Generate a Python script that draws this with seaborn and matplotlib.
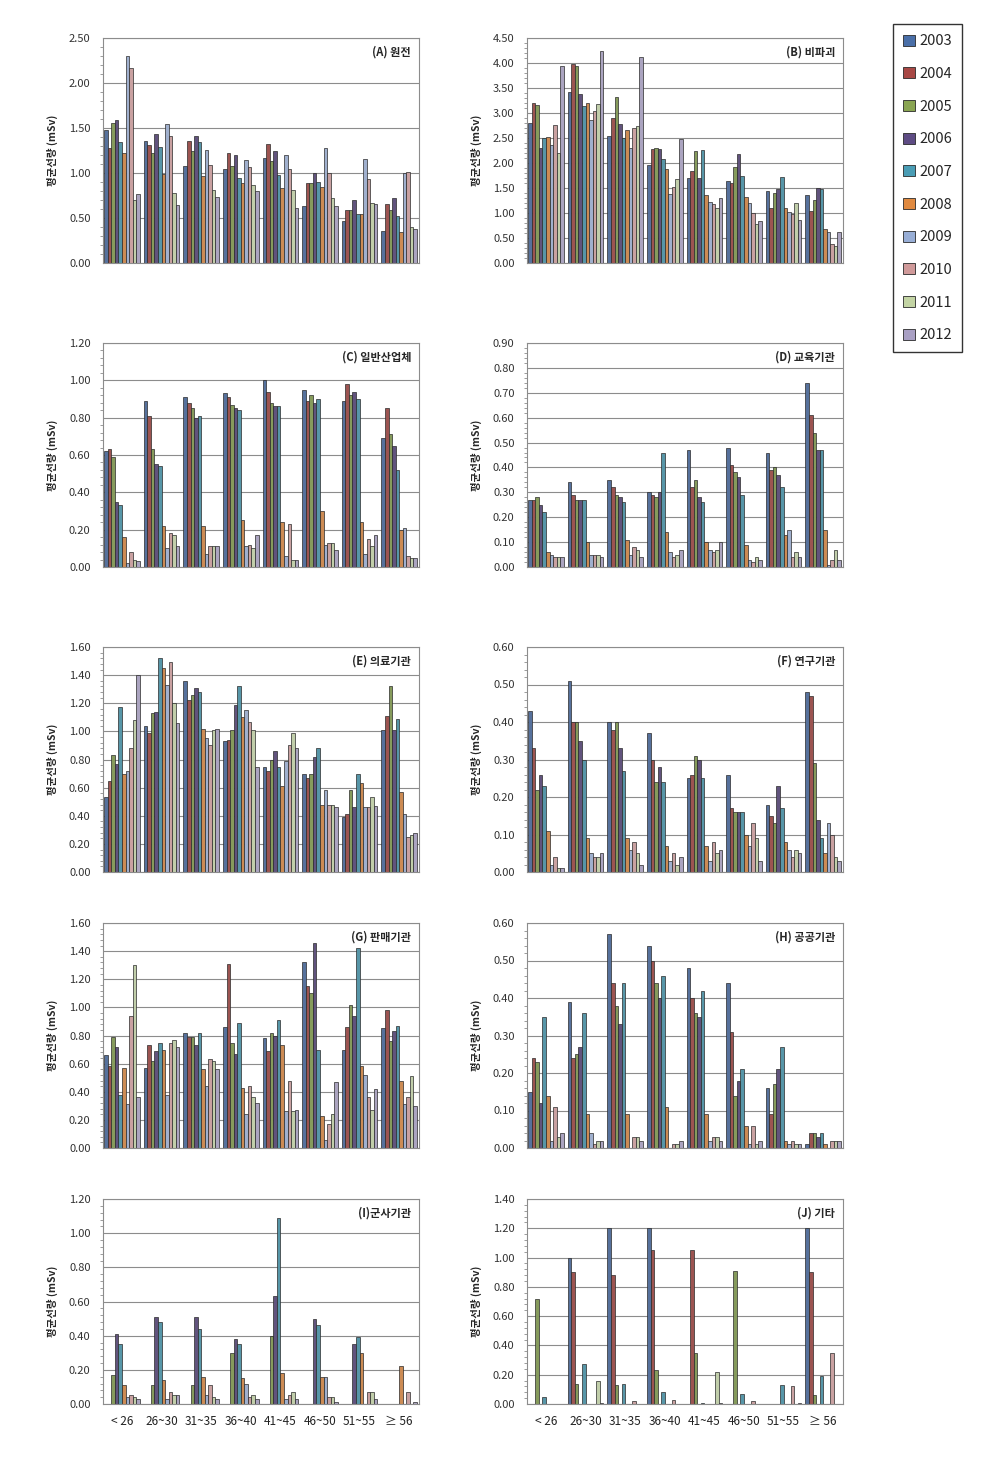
import numpy as np
import pandas as pd
import matplotlib
matplotlib.use("Agg")
import matplotlib.pyplot as plt
from matplotlib.patches import Patch
from matplotlib.ticker import MultipleLocator, AutoMinorLocator, FormatStrFormatter
import seaborn as sns

# age groups and years
ages = ["< 26", "26~30", "31~35", "36~40", "41~45", "46~50", "51~55", "≥ 56"]
years = ["2003", "2004", "2005", "2006", "2007", "2008", "2009", "2010", "2011", "2012"]
year_colors = ["#4a6fa8", "#a84845", "#8aa552", "#5e4c84", "#4a9db5",
               "#e08a40", "#98aed6", "#d09a9a", "#c3d4a4", "#a9a0c4"]

# mean dose (mSv), one row per age group, one value per year 2003..2012
nuclear = [
    [1.48, 1.28, 1.56, 1.59, 1.34, 1.22, 2.30, 2.17, 0.70, 0.77],
    [1.36, 1.31, 1.22, 1.43, 1.29, 0.99, 1.55, 1.41, 0.78, 0.64],
    [1.08, 1.36, 1.25, 1.41, 1.34, 0.97, 1.26, 1.09, 0.81, 0.73],
    [1.04, 1.22, 1.08, 1.20, 0.94, 0.89, 1.14, 1.07, 0.87, 0.80],
    [1.17, 1.32, 1.13, 1.25, 0.98, 0.83, 1.20, 1.04, 0.81, 0.61],
    [0.63, 0.89, 0.89, 1.00, 0.90, 0.84, 1.28, 1.00, 0.72, 0.63],
    [0.47, 0.59, 0.59, 0.70, 0.55, 0.54, 1.16, 0.93, 0.67, 0.66],
    [0.36, 0.66, 0.59, 0.72, 0.52, 0.35, 1.00, 1.01, 0.40, 0.38],
]
ndt = [
    [2.80, 3.20, 3.16, 2.30, 2.50, 2.52, 2.36, 2.77, 2.20, 3.95],
    [3.43, 3.98, 3.95, 3.38, 3.14, 3.20, 2.87, 3.04, 3.18, 4.23],
    [2.54, 2.90, 3.32, 2.78, 2.50, 2.67, 2.30, 2.70, 2.74, 4.12],
    [1.97, 2.29, 2.30, 2.29, 2.08, 1.88, 1.38, 1.52, 1.68, 2.49],
    [1.70, 1.85, 2.25, 1.70, 2.26, 1.36, 1.23, 1.18, 1.10, 1.30],
    [1.65, 1.60, 1.93, 2.18, 1.75, 1.32, 1.20, 1.00, 0.79, 0.85],
    [1.44, 1.11, 1.40, 1.48, 1.73, 1.11, 1.02, 0.99, 1.20, 0.86],
    [1.37, 1.04, 1.27, 1.50, 1.48, 0.68, 0.62, 0.38, 0.34, 0.63],
]
industry = [
    [0.62, 0.63, 0.59, 0.35, 0.33, 0.16, 0.02, 0.08, 0.04, 0.03],
    [0.89, 0.81, 0.63, 0.55, 0.54, 0.22, 0.10, 0.18, 0.17, 0.11],
    [0.91, 0.88, 0.85, 0.80, 0.81, 0.22, 0.07, 0.11, 0.11, 0.11],
    [0.93, 0.91, 0.87, 0.85, 0.84, 0.25, 0.11, 0.12, 0.10, 0.17],
    [1.00, 0.94, 0.88, 0.86, 0.86, 0.24, 0.06, 0.23, 0.04, 0.04],
    [0.95, 0.89, 0.92, 0.88, 0.90, 0.30, 0.12, 0.13, 0.13, 0.09],
    [0.89, 0.98, 0.92, 0.94, 0.90, 0.24, 0.07, 0.15, 0.11, 0.17],
    [0.69, 0.85, 0.71, 0.65, 0.52, 0.20, 0.21, 0.06, 0.05, 0.05],
]
education = [
    [0.27, 0.27, 0.28, 0.25, 0.22, 0.06, 0.05, 0.04, 0.04, 0.04],
    [0.34, 0.29, 0.27, 0.27, 0.27, 0.10, 0.05, 0.05, 0.05, 0.04],
    [0.35, 0.32, 0.29, 0.28, 0.26, 0.11, 0.05, 0.08, 0.07, 0.04],
    [0.30, 0.29, 0.28, 0.30, 0.46, 0.14, 0.06, 0.04, 0.05, 0.07],
    [0.47, 0.32, 0.35, 0.28, 0.26, 0.10, 0.07, 0.06, 0.07, 0.10],
    [0.48, 0.41, 0.38, 0.36, 0.29, 0.09, 0.03, 0.02, 0.04, 0.03],
    [0.46, 0.39, 0.40, 0.37, 0.32, 0.13, 0.15, 0.04, 0.06, 0.04],
    [0.74, 0.61, 0.54, 0.47, 0.47, 0.15, 0.01, 0.03, 0.07, 0.03],
]
medical = [
    [0.53, 0.65, 0.83, 0.77, 1.17, 0.70, 0.72, 0.88, 1.08, 1.40],
    [1.04, 0.99, 1.13, 1.14, 1.52, 1.45, 1.33, 1.49, 1.20, 1.06],
    [1.36, 1.22, 1.26, 1.31, 1.28, 1.02, 0.95, 0.90, 1.01, 1.02],
    [0.93, 0.94, 1.01, 1.19, 1.32, 1.10, 1.15, 1.07, 1.01, 0.75],
    [0.75, 0.72, 0.80, 0.86, 0.75, 0.61, 0.79, 0.90, 0.99, 0.88],
    [0.70, 0.67, 0.70, 0.82, 0.88, 0.48, 0.58, 0.48, 0.48, 0.46],
    [0.39, 0.41, 0.58, 0.46, 0.70, 0.63, 0.46, 0.46, 0.53, 0.47],
    [1.01, 1.11, 1.32, 1.01, 1.09, 0.57, 0.41, 0.25, 0.26, 0.28],
]
research = [
    [0.43, 0.33, 0.22, 0.26, 0.23, 0.11, 0.02, 0.04, 0.01, 0.01],
    [0.51, 0.40, 0.40, 0.35, 0.30, 0.09, 0.05, 0.04, 0.04, 0.05],
    [0.40, 0.38, 0.40, 0.33, 0.27, 0.09, 0.06, 0.08, 0.05, 0.02],
    [0.37, 0.30, 0.24, 0.28, 0.24, 0.07, 0.03, 0.05, 0.02, 0.04],
    [0.25, 0.26, 0.31, 0.30, 0.25, 0.07, 0.03, 0.08, 0.05, 0.06],
    [0.26, 0.17, 0.16, 0.16, 0.16, 0.10, 0.07, 0.13, 0.09, 0.03],
    [0.18, 0.15, 0.13, 0.23, 0.17, 0.08, 0.06, 0.04, 0.06, 0.05],
    [0.48, 0.47, 0.29, 0.14, 0.09, 0.05, 0.13, 0.10, 0.04, 0.03],
]
sales = [
    [0.66, 0.58, 0.79, 0.72, 0.38, 0.57, 0.31, 0.94, 1.30, 0.36],
    [0.57, 0.73, 0.62, 0.69, 0.75, 0.70, 0.38, 0.75, 0.77, 0.72],
    [0.82, 0.79, 0.79, 0.73, 0.82, 0.56, 0.44, 0.63, 0.62, 0.56],
    [0.86, 1.31, 0.75, 0.67, 0.89, 0.43, 0.24, 0.44, 0.36, 0.32],
    [0.78, 0.69, 0.82, 0.80, 0.91, 0.73, 0.26, 0.48, 0.26, 0.27],
    [1.32, 1.15, 1.10, 1.46, 0.70, 0.23, 0.06, 0.17, 0.24, 0.47],
    [0.70, 0.86, 1.02, 0.94, 1.42, 0.58, 0.52, 0.36, 0.27, 0.42],
    [0.85, 0.98, 0.76, 0.83, 0.87, 0.48, 0.31, 0.36, 0.51, 0.30],
]
public = [
    [0.15, 0.24, 0.23, 0.12, 0.35, 0.14, 0.02, 0.11, 0.03, 0.04],
    [0.39, 0.24, 0.25, 0.27, 0.36, 0.09, 0.04, 0.01, 0.02, 0.02],
    [0.57, 0.44, 0.38, 0.33, 0.44, 0.09, 0.00, 0.03, 0.03, 0.02],
    [0.54, 0.50, 0.44, 0.40, 0.46, 0.11, 0.00, 0.01, 0.01, 0.02],
    [0.48, 0.40, 0.36, 0.35, 0.42, 0.09, 0.02, 0.03, 0.03, 0.02],
    [0.44, 0.31, 0.14, 0.18, 0.21, 0.06, 0.01, 0.06, 0.01, 0.02],
    [0.16, 0.09, 0.17, 0.21, 0.27, 0.02, 0.01, 0.02, 0.01, 0.01],
    [0.01, 0.04, 0.04, 0.03, 0.04, 0.01, 0.00, 0.02, 0.02, 0.02],
]
military = [
    [0.00, 0.00, 0.17, 0.41, 0.35, 0.11, 0.04, 0.05, 0.04, 0.03],
    [0.00, 0.00, 0.11, 0.51, 0.48, 0.14, 0.03, 0.07, 0.05, 0.05],
    [0.00, 0.00, 0.11, 0.51, 0.44, 0.16, 0.05, 0.11, 0.04, 0.03],
    [0.00, 0.00, 0.30, 0.38, 0.35, 0.15, 0.12, 0.04, 0.05, 0.03],
    [0.00, 0.00, 0.40, 0.63, 1.09, 0.18, 0.03, 0.05, 0.07, 0.03],
    [0.00, 0.00, 0.00, 0.50, 0.46, 0.16, 0.16, 0.04, 0.04, 0.01],
    [0.00, 0.00, 0.00, 0.35, 0.39, 0.30, 0.00, 0.07, 0.07, 0.03],
    [0.00, 0.00, 0.00, 0.00, 0.00, 0.22, 0.00, 0.07, 0.00, 0.01],
]
others = [
    [0.00, 0.00, 0.72, 0.00, 0.05, 0.00, 0.00, 0.00, 0.00, 0.00],
    [1.00, 0.90, 0.14, 0.00, 0.27, 0.00, 0.00, 0.00, 0.16, 0.01],
    [1.20, 0.88, 0.13, 0.00, 0.14, 0.00, 0.00, 0.02, 0.00, 0.00],
    [1.20, 1.05, 0.23, 0.00, 0.08, 0.00, 0.00, 0.03, 0.00, 0.00],
    [0.00, 1.05, 0.35, 0.00, 0.01, 0.00, 0.00, 0.00, 0.22, 0.01],
    [0.00, 0.00, 0.91, 0.00, 0.07, 0.00, 0.00, 0.02, 0.00, 0.00],
    [0.00, 0.00, 0.00, 0.00, 0.13, 0.00, 0.00, 0.12, 0.00, 0.01],
    [1.20, 0.90, 0.06, 0.00, 0.19, 0.00, 0.00, 0.35, 0.00, 0.00],
]

panels = [
    ("(A) 원전", nuclear, 2.5, 0.5),
    ("(B) 비파괴", ndt, 4.5, 0.5),
    ("(C) 일반산업체", industry, 1.2, 0.2),
    ("(D) 교육기관", education, 0.9, 0.1),
    ("(E) 의료기관", medical, 1.6, 0.2),
    ("(F) 연구기관", research, 0.6, 0.1),
    ("(G) 판매기관", sales, 1.6, 0.2),
    ("(H) 공공기관", public, 0.6, 0.1),
    ("(I)군사기관", military, 1.2, 0.2),
    ("(J) 기타", others, 1.4, 0.2),
]

# axes boxes in pixels: left, top, right, bottom
boxes = [
    (103, 38, 419, 263), (527, 38, 843, 263),
    (103, 343, 419, 567), (527, 343, 843, 567),
    (103, 647, 419, 872), (527, 647, 843, 872),
    (103, 923, 419, 1148), (527, 923, 843, 1148),
    (103, 1199, 419, 1404), (527, 1199, 843, 1404),
]

sns.set_style("white")
plt.rcParams['font.family'] = ['Noto Sans CJK KR', 'DejaVu Sans']

W, H = 981, 1462
fig = plt.figure(figsize=(W / 100, H / 100), dpi=100)

for i, ((title, vals, ymax, step), (l, t, r, b)) in enumerate(zip(panels, boxes)):
    ax = fig.add_axes([l / W, 1 - b / H, (r - l) / W, (b - t) / H])
    df = pd.DataFrame(vals, index=ages, columns=years)
    df = df.reset_index().melt(id_vars="index", var_name="year", value_name="dose")
    df = df.rename(columns={"index": "age"})
    sns.barplot(data=df, x="age", y="dose", hue="year", palette=year_colors,
                order=ages, hue_order=years, errorbar=None, width=0.9,
                edgecolor="#2a2a2a", linewidth=0.5, legend=False, ax=ax)
    ax.set_xlim(-0.48, 7.5)
    ax.set_ylim(0, ymax)
    ax.yaxis.set_major_locator(MultipleLocator(step))
    ax.yaxis.set_minor_locator(AutoMinorLocator(5))
    ax.yaxis.set_major_formatter(FormatStrFormatter("%.2f"))
    ax.grid(axis="y", color="#8c8c8c", linewidth=0.8)
    ax.set_axisbelow(True)
    for s in ax.spines.values():
        s.set_color("#8c8c8c")
        s.set_linewidth(0.8)
    ax.tick_params(axis="y", which="major", labelsize=8, length=3, color="#8c8c8c",
                   labelcolor="#333333", pad=6)
    ax.tick_params(axis="y", which="minor", length=2, color="#8c8c8c", left=True)
    ax.tick_params(axis="x", length=0, labelsize=8.5, pad=8, labelcolor="#222222")
    if i < 8:
        ax.set_xticklabels([])
    ax.set_xlabel("")
    ax.set_ylabel("평균선량 (mSv)", fontsize=7.5, fontweight="bold", labelpad=8)
    ax.text(0.975, 1 - 14 / (b - t), title, transform=ax.transAxes, ha="right",
            va="center", fontsize=8, fontweight="bold")

handles = [Patch(facecolor=c, edgecolor="#2a2a2a", linewidth=0.6) for c in year_colors]
leg = fig.legend(handles, years, loc="upper left", bbox_to_anchor=(893 / W, 1 - 24 / H),
                 frameon=True, fancybox=False, edgecolor="black", fontsize=10.5,
                 handlelength=0.8, handleheight=0.8, handletextpad=0.3,
                 labelspacing=1.28, borderpad=0.7, borderaxespad=0)
leg.get_frame().set_linewidth(1.0)

fig.savefig("out.png", dpi=100, facecolor="white")
